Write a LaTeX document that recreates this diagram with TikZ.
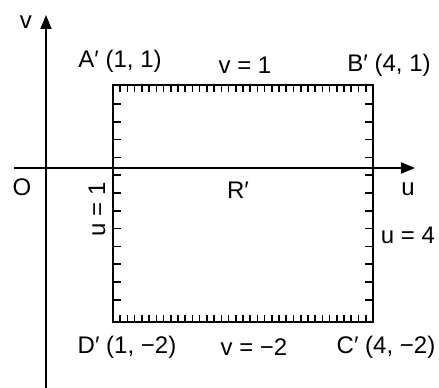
\documentclass[tikz,border=0pt]{standalone}
\usepackage{fontspec}
\setmainfont{Liberation Sans}
\usetikzlibrary{arrows.meta, positioning}

\tikzset{
  axisline/.style={line width=1.8pt, -{Triangle[length=14pt,width=11pt]}},
  edgeline/.style={line width=2.4pt},
  tickline/.style={line width=1.6pt},
}

\begin{document}
\begin{tikzpicture}[x=1pt, y=1pt, font=\fontsize{24}{28}\selectfont]
				\useasboundingbox (-46,-220) rectangle (393,168);
				% axes
				\coordinate (vbot) at (0,-220);
				\coordinate (vtop) at (0,153);
				\coordinate (uleft) at (-32,0);
				\coordinate (uright) at (369,0);
				\draw[axisline] (vbot) -- (vtop);
				\draw[axisline] (uleft) -- (uright);
				% region R'
				\coordinate (A) at (67,83);
				\coordinate (B) at (327,83);
				\coordinate (C) at (327,-154);
				\coordinate (D) at (67,-154);
				\draw[edgeline] (A) -- (B) -- (C) -- (D) -- cycle;
				\foreach \i in {1,...,35}{
					\draw[tickline] (67+7.22*\i,83) -- ++(0,-7);
					\draw[tickline] (67+7.22*\i,-154) -- ++(0,7);
				}
				\foreach \i in {0,...,11}{
					\draw[tickline] (67,64-17.8*\i) -- ++(8,0);
					\draw[tickline] (327,64-17.8*\i) -- ++(-8,0);
				}
				% labels
				\node (vlab) at (-20,146) {v};
				\node (ulab) at (362,-21) {u};
				\node (olab) at (-24,-19) {O};
				\node (Rlab) at (192,-22) {R′};
				\node (Alab) at (74,107) {A′ (1, 1)};
				\node (Blab) at (343,103) {B′ (4, 1)};
				\node (Clab) at (340,-179) {C′ (4, −2)};
				\node (Dlab) at (81,-179) {D′ (1, −2)};
				\node (toplab) at (199,103) {v = 1};
				\node (botlab) at (208,-179) {v = −2};
				\node[rotate=90] (leftlab) at (51,-41) {u = 1};
				\node (rightlab) at (362,-67) {u = 4};
		\end{tikzpicture}
\end{document}
